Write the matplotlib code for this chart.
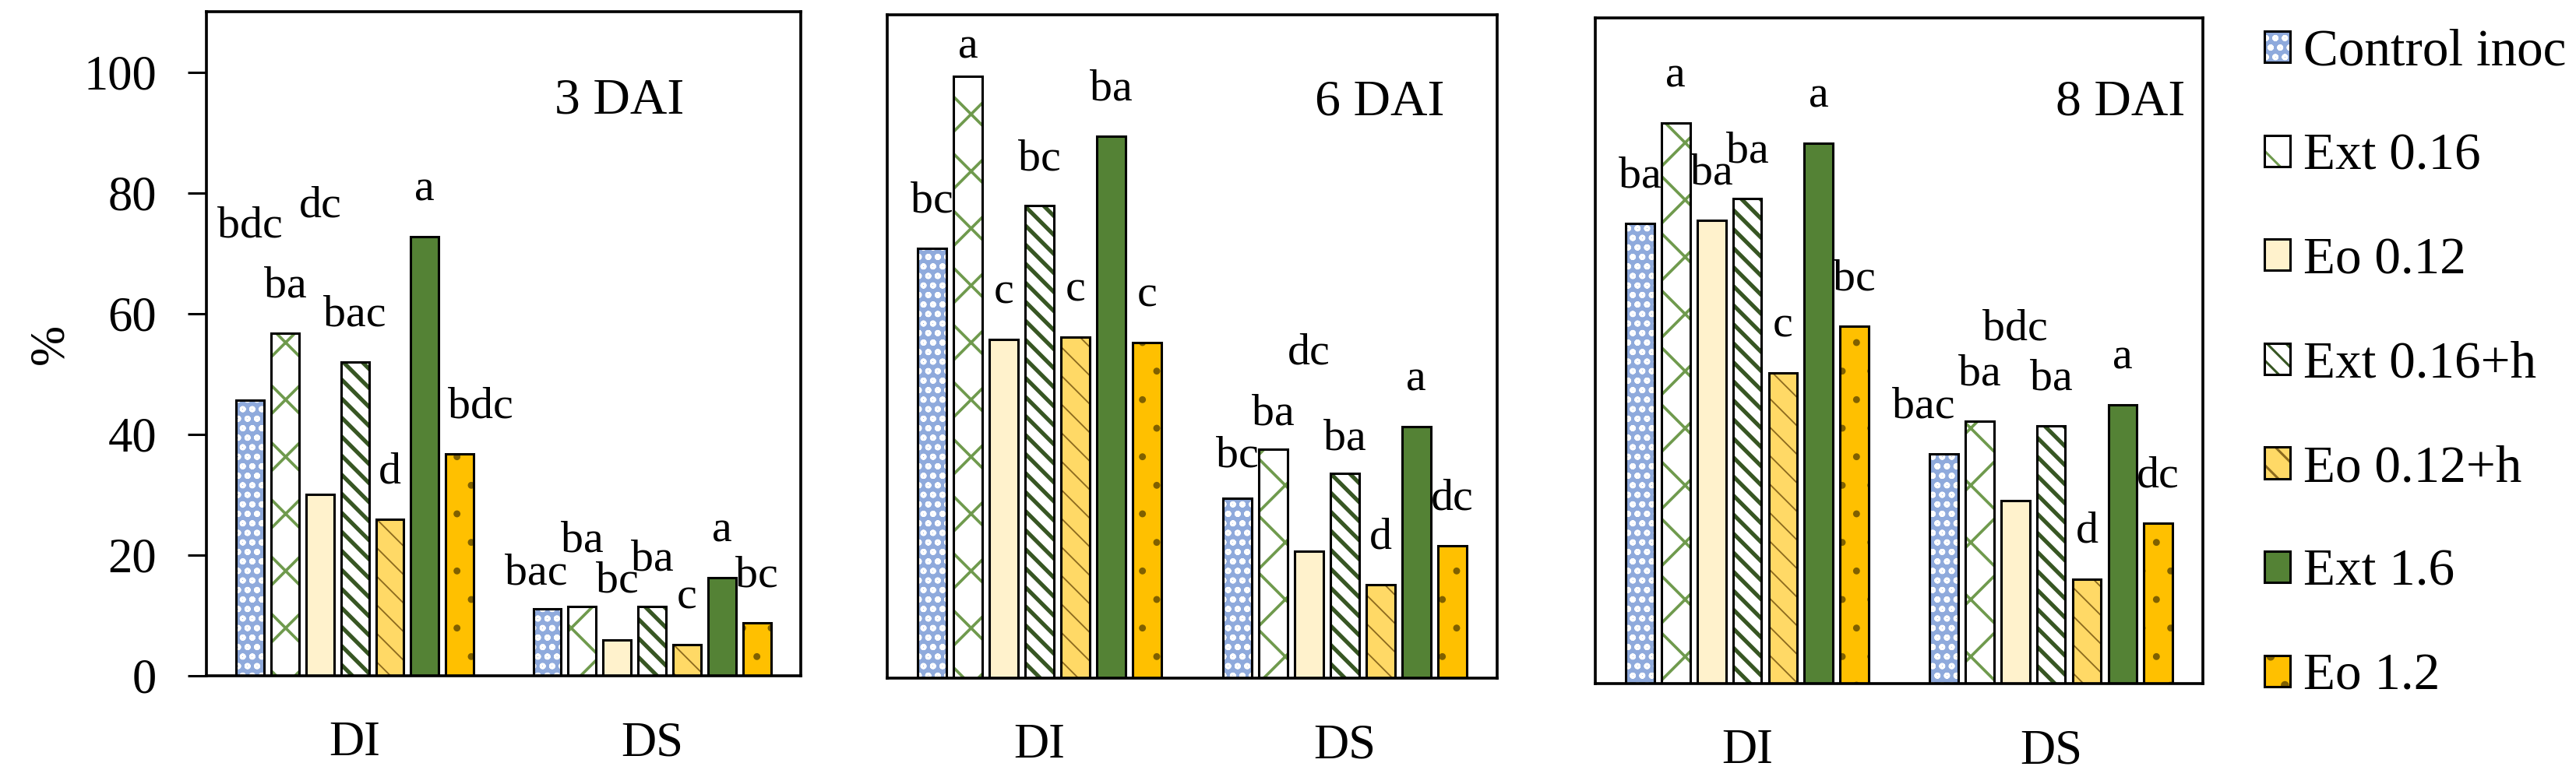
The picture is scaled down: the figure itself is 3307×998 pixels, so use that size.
import matplotlib
matplotlib.use('Agg')
import matplotlib.pyplot as plt

plt.rcParams.update({
    'font.family': ['Liberation Serif', 'DejaVu Serif'],
    'axes.linewidth': 1.2,
})

DPI = 220

# === values ===
PANELS = ['3 DAI', '6 DAI', '8 DAI']
GROUPS = ['DI', 'DS']
SERIES = ['Control inoc', 'Ext 0.16', 'Eo 0.12', 'Ext 0.16+h',
          'Eo 0.12+h', 'Ext 1.6', 'Eo 1.2']

DAI3_DI = [45.6, 56.7, 30.0, 52.0, 25.9, 72.7, 36.8]
DAI3_DS = [11.1, 11.5, 5.9, 11.5, 5.1, 16.2, 8.8]
DAI6_DI = [71.3, 99.8, 56.1, 78.3, 56.5, 89.8, 55.7]
DAI6_DS = [29.8, 38.0, 21.1, 33.9, 15.5, 41.7, 21.9]
DAI8_DI = [76.0, 92.6, 76.5, 80.1, 51.3, 89.3, 59.1]
DAI8_DS = [38.0, 43.4, 30.2, 42.6, 17.3, 46.1, 26.5]

LET3_DI = ['bdc', 'ba', 'dc', 'bac', 'd', 'a', 'bdc']
LET3_DS = ['bac', 'ba', 'bc', 'ba', 'c', 'a', 'bc']
LET6_DI = ['bc', 'a', 'c', 'bc', 'c', 'ba', 'c']
LET6_DS = ['bc', 'ba', 'dc', 'ba', 'd', 'a', 'dc']
LET8_DI = ['ba', 'a', 'ba', 'ba', 'c', 'a', 'bc']
LET8_DS = ['bac', 'ba', 'bdc', 'ba', 'd', 'a', 'dc']

VALUES = [(DAI3_DI, DAI3_DS), (DAI6_DI, DAI6_DS), (DAI8_DI, DAI8_DS)]
LETTERS = [(LET3_DI, LET3_DS), (LET6_DI, LET6_DS), (LET8_DI, LET8_DS)]

# bar styles: face, hatch, hatch colour, hatch linewidth
STYLES = [
    ('#8FAADC', 'ooo', 'white', 1.0),
    ('white', 'x', '#6F9A4D', 1.2),
    ('#FFF2CC', None, None, 0),
    ('white', '\\\\\\', '#375623', 1.7),
    ('#FFD966', '\\\\', '#8C6A1E', 0.6),
    ('#548235', None, None, 0),
    ('#FFC000', '.', '#7F6000', 0.5),
]

# letter placement tweaks (panel, group, series) -> lift above bar / x shift
LIFT = {(0, 0, 0): 27, (0, 0, 2): 46, (0, 1, 0): 4, (0, 1, 1): 9, (0, 1, 2): 8,
        (1, 0, 1): 3, (1, 1, 0): 5.3, (1, 1, 1): 4, (1, 1, 2): 31, (1, 1, 3): 4,
        (2, 1, 2): 26.6}
SHIFT = {(0, 0, 6): 0.07, (0, 1, 0): -0.037, (2, 1, 0): -0.067}

# axes boxes in figure fraction [left, bottom, width, height]
BOXES = [[0.0801, 0.1303, 0.2307, 0.8547],
         [0.3444, 0.1273, 0.2368, 0.8537],
         [0.6193, 0.1202, 0.2359, 0.8567]]
TITLE_POS = [(0.695, 0.847), (0.807, 0.849), (0.864, 0.854)]

PITCH = 0.1176
WIDTH = 0.094

fig = plt.figure(figsize=(3307 / DPI, 998 / DPI), dpi=DPI)

handles = []
for p, title in enumerate(PANELS):
    ax = fig.add_axes(BOXES[p])
    di, ds = VALUES[p]
    let_di, let_ds = LETTERS[p]
    panel_handles = []
    for i, name in enumerate(SERIES):
        face, hatch, hcol, hlw = STYLES[i]
        xs = [g + (i - 3) * PITCH for g in range(len(GROUPS))]
        hs = [di[i], ds[i]]
        with plt.rc_context({'hatch.linewidth': max(hlw, 0.1)}):
            fill = ax.bar(xs, hs, WIDTH, color=face,
                          edgecolor=hcol if hcol else face,
                          hatch=hatch, linewidth=0, zorder=2)
        line = ax.bar(xs, hs, WIDTH, fill=False, edgecolor='black',
                      linewidth=1.0, zorder=3)
        panel_handles.append((fill[0], line[0]))
        for g, (x, h) in enumerate(zip(xs, hs)):
            txt = (let_di, let_ds)[g][i]
            lift = LIFT.get((p, g, i), 6)
            dx = SHIFT.get((p, g, i), 0)
            ax.text(x + dx, h + lift, txt, ha='center', va='baseline',
                    fontsize=19)
    handles = panel_handles

    ax.set_xlim(-0.5, 1.5)
    ax.set_ylim(0, 110)
    ax.set_xticks(range(len(GROUPS)))
    ax.set_xticklabels(GROUPS, fontsize=20.5)
    ax.tick_params(axis='x', length=0, pad=19)
    if p == 0:
        ax.set_yticks(range(0, 101, 20))
        ax.tick_params(axis='y', direction='out', length=7.9, width=1.0,
                       pad=13, labelsize=20.5)
        ax.text(-0.262, 0.5, '%', rotation=90, ha='center', va='center',
                fontsize=20.5, transform=ax.transAxes)
    else:
        ax.set_yticks([])
    ax.text(TITLE_POS[p][0], TITLE_POS[p][1], title, ha='center',
            va='baseline', fontsize=21.5, transform=ax.transAxes)

fig.legend(handles, SERIES, loc='upper left', bbox_to_anchor=(0.879, 0.963),
           frameon=False, fontsize=22, handlelength=0.5, handleheight=0.54,
           handletextpad=0.25, labelspacing=1.08, borderaxespad=0, borderpad=0)

fig.savefig('out.png', dpi=DPI)
